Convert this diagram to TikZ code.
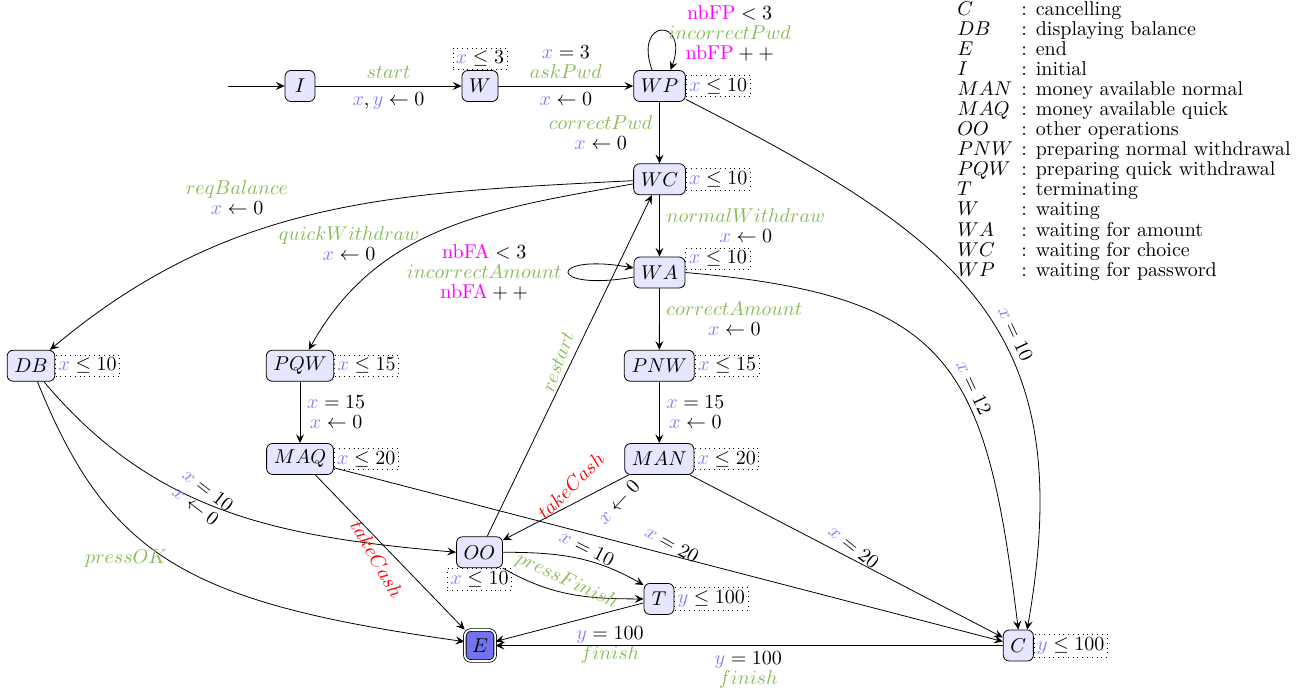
\documentclass[tikz,border=0pt]{standalone}
\usetikzlibrary{arrows.meta}
\definecolor{xblue}{RGB}{128,128,255}
\definecolor{actgreen}{RGB}{134,188,87}
\definecolor{cntpink}{RGB}{255,0,255}
\definecolor{takered}{RGB}{255,0,0}
\definecolor{statefill}{RGB}{230,230,255}
\definecolor{endfill}{RGB}{115,115,240}
\newcommand{\vx}{\textcolor{xblue}{x}}
\newcommand{\vy}{\textcolor{xblue}{y}}
\newcommand{\actlbl}[1]{\textcolor{actgreen}{#1}}
\newcommand{\cntvar}[1]{\textcolor{cntpink}{\mathrm{#1}}}
\newcommand{\redact}[1]{\textcolor{takered}{#1}}
\begin{document}
\begin{tikzpicture}[x=0.5pt, y=0.5pt, >={Stealth[length=4.4pt,width=4pt,inset=1.7pt]},
  every node/.style={font=\fontsize{10pt}{10pt}\selectfont},
  state/.style={draw, rounded corners=3pt, fill=statefill, minimum width=15pt, minimum height=15.5pt, inner xsep=3.6pt, inner ysep=2pt},
  endstate/.style={state, fill=endfill, double, double distance=0.9pt},
  inv/.style={draw, dotted, inner sep=1.5pt},
  lbl/.style={align=center}]
\useasboundingbox (0,0) rectangle (1305,-691);
% states
\node[state] (I) at (300,-86) {$I$};
\node[state] (W) at (480,-86) {$W$};
\node[state] (WP) at (659.5,-86) {$WP$};
\node[state] (WC) at (659.5,-179.25) {$WC$};
\node[state] (WA) at (659.5,-272.5) {$WA$};
\node[state] (PNW) at (659.3,-365.75) {$PNW$};
\node[state] (MAN) at (659.3,-459) {$MAN$};
\node[state] (DB) at (31,-365.75) {$DB$};
\node[state] (PQW) at (300,-365.75) {$PQW$};
\node[state] (MAQ) at (300,-459) {$MAQ$};
\node[state] (OO) at (479.5,-552.25) {$OO$};
\node[state] (T) at (659,-598.9) {$T$};
\node[endstate] (E) at (480,-645.5) {$E$};
\node[state] (C) at (1018.3,-645.5) {$C$};
% invariants
\node[inv, anchor=south] (iW) at (W.north) {$\vx \leq 3$};
\node[inv, anchor=west] (iWP) at (WP.east) {$\vx \leq 10$};
\node[inv, anchor=west] (iWC) at (WC.east) {$\vx \leq 10$};
\node[inv, anchor=south west] (iWA) at ([yshift=1.2pt]WA.east) {$\vx \leq 10$};
\node[inv, anchor=west] (iPNW) at (PNW.east) {$\vx \leq 15$};
\node[inv, anchor=west] (iMAN) at (MAN.east) {$\vx \leq 20$};
\node[inv, anchor=west] (iDB) at (DB.east) {$\vx \leq 10$};
\node[inv, anchor=west] (iPQW) at (PQW.east) {$\vx \leq 15$};
\node[inv, anchor=west] (iMAQ) at (MAQ.east) {$\vx \leq 20$};
\node[inv, anchor=north] (iOO) at (OO.south) {$\vx \leq 10$};
\node[inv, anchor=west] (iT) at (T.east) {$\vy \leq 100$};
\node[inv, anchor=west] (iC) at (C.east) {$\vy \leq 100$};
% top row
\coordinate (init) at (228,-86);
\draw[->] (init) -- (I);
\draw[->] (I) -- node[above]{$\actlbl{start}$} node[below]{$\vx,\vy \leftarrow 0$} (W);
\draw[->] (W) -- node[above, lbl]{$\vx = 3$\\$\actlbl{askPwd}$} node[below]{$\vx \leftarrow 0$} (WP);
\draw[->] (WP.115) .. controls +(110:28pt) and +(70:28pt) .. node[right, lbl, yshift=-1.5pt]{$\cntvar{nbFP} < 3$\\$\actlbl{incorrectPwd}$\\$\cntvar{nbFP}++$} (WP.55);
% central column
\draw[->] (WP) -- node[left, lbl]{$\actlbl{correctPwd}$\\$\vx \leftarrow 0$} (WC);
\draw[->] (WC) -- node[right, lbl]{$\actlbl{normalWithdraw}$\\$\vx \leftarrow 0$} (WA);
\draw[->] (WA.190) .. controls +(190:44pt) and +(170:44pt) .. node[left, lbl]{$\cntvar{nbFA} < 3$\\$\actlbl{incorrectAmount}$\\$\cntvar{nbFA}++$} (WA.170);
\draw[->] (WA) -- node[right, lbl]{$\actlbl{correctAmount}$\\$\vx \leftarrow 0$} (PNW);
\draw[->] (PNW) -- node[right, lbl]{$\vx = 15$\\$\vx \leftarrow 0$} (MAN);
\draw[->] (PQW) -- node[right, lbl]{$\vx = 15$\\$\vx \leftarrow 0$} (MAQ);
% curves from WC
\draw[->] (WC) to[out=183, in=40] (DB);
\node[lbl] (lReq) at (237,-198) {$\actlbl{reqBalance}$\\$\vx \leftarrow 0$};
\draw[->] (WC) to[out=190, in=61] (PQW);
\node[lbl] (lQuick) at (349,-243.5) {$\actlbl{quickWithdraw}$\\$\vx \leftarrow 0$};
% to C
\draw[->] (WP.333) to[out=-27, in=80, looseness=1.25] (C.61);
\node[rotate=-65] (lWPC) at (1015.7,-334) {$\vx = 10$};
\draw[->] (WA.east) to[out=-5, in=97, looseness=1.4] (C.north);
\node[rotate=-65] (lWAC) at (974,-388) {$\vx = 12$};
\draw[->] (MAQ) -- (C);
\node[rotate=-29.5] (lMAQC) at (672,-544) {$\vx = 20$};
\draw[->] (MAN) -- (C);
\node[rotate=-39] (lMANC) at (854,-547) {$\vx = 20$};
% DB
\draw[->] (DB.-51) to[out=-50, in=175] (OO.west);
\node[lbl, rotate=-38] (lDBOO) at (202,-498) {$\vx = 10$\\$\vx \leftarrow 0$};
\draw[->] (DB.-68) .. controls +(-68:95pt) and +(172:140pt) .. (E.166);
\node (lPressOK) at (126,-559) {$\actlbl{pressOK}$};
% MAQ, MAN
\draw[->] (MAQ) -- (E);
\node[rotate=-60] (lMAQE) at (377,-559) {$\redact{takeCash}$};
\draw[->] (MAN) -- (OO);
\node[rotate=45] (lMANOOa) at (570.7,-485.7) {$\redact{takeCash}$};
\node[rotate=47] (lMANOOb) at (618.3,-502.3) {$\vx \leftarrow 0$};
% OO
\draw[->] (OO) -- (WC);
\node[rotate=70] (lRestart) at (558,-362) {$\actlbl{restart}$};
\draw[->] (OO.east) to[out=0, in=150] (T.138);
\node[rotate=-27] (lOOT) at (587,-548) {$\vx = 10$};
\draw[->] (OO.south east) to[out=-30, in=180] (T.west);
\node[rotate=-25] (lPressFinish) at (567,-581) {$\actlbl{pressFinish}$};
% to E
\draw[->] (T) -- (E);
\node[lbl] (lTE) at (610,-645) {$\vy = 100$\\$\actlbl{finish}$};
\draw[->] (C) -- (E);
\node[lbl] (lCE) at (748.3,-670) {$\vy = 100$\\$\actlbl{finish}$};
% legend
\node[anchor=north west, inner sep=0pt] (legend) at (957,-1.5) {\begin{tabular}{@{}p{32pt}@{}l@{}}
$C$ & : cancelling\\
$DB$ & : displaying balance\\
$E$ & : end\\
$I$ & : initial\\
$MAN$ & : money available normal\\
$MAQ$ & : money available quick\\
$OO$ & : other operations\\
$PNW$ & : preparing normal withdrawal\\
$PQW$ & : preparing quick withdrawal\\
$T$ & : terminating\\
$W$ & : waiting\\
$WA$ & : waiting for amount\\
$WC$ & : waiting for choice\\
$WP$ & : waiting for password
\end{tabular}};
\end{tikzpicture}
\end{document}
